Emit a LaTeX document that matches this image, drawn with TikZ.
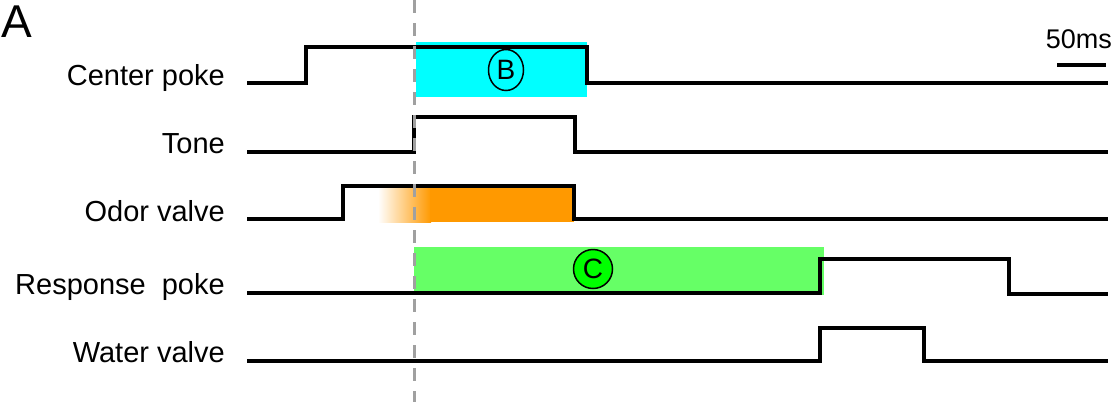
\documentclass[tikz,border=0pt]{standalone}
\usepackage{fontspec}
\setmainfont{Liberation Sans}
\usetikzlibrary{shapes.geometric}
\definecolor{cyanfill}{HTML}{00FFFF}
\definecolor{orangefill}{HTML}{FF9900}
\definecolor{greenfill}{HTML}{66FF66}
\definecolor{cfill}{HTML}{00FF00}
\definecolor{dashgray}{HTML}{A0A0A0}
\begin{document}
\begin{tikzpicture}[x=1pt,y=-1pt,
  sig/.style={line width=3.2pt, line join=miter},
  lbl/.style={font=\fontsize{29}{31}\selectfont, anchor=base east, inner sep=0pt},
  marker/.style={draw=black, line width=1.5pt, inner sep=0pt}]
\useasboundingbox (0,0) rectangle (1113,402);
% highlighted windows
\fill[cyanfill] (416,42) rectangle (587,97);
\shade[left color=white, right color=orangefill] (378,186) rectangle (431,222);
\fill[orangefill] (430,186) rectangle (574,222);
\fill[greenfill] (414,247) rectangle (824,295);
% labels
\node[font=\fontsize{46}{48}\selectfont, anchor=base west, inner sep=0pt] (A) at (1,37) {A};
\node[lbl] (lcp) at (225,85) {Center poke};
\node[lbl] (lt) at (225,153) {Tone};
\node[lbl] (lo) at (225,221) {Odor valve};
\node[lbl] (lr) at (225,294) {Response\ \ poke};
\node[lbl] (lw) at (225,362) {Water valve};
\node[lbl, font=\fontsize{27}{29}\selectfont] (sb) at (1112,48) {50ms};
% markers
\node[marker, ellipse, minimum width=35pt, minimum height=41pt] (B) at (506,70) {};
\node[font=\fontsize{28}{30}\selectfont, inner sep=0pt] (Bt) at (506,70) {B};
\node[marker, circle, fill=cfill, minimum size=39pt] (C) at (593,269) {};
\node[font=\fontsize{28}{30}\selectfont, inner sep=0pt] (Ct) at (593,269) {C};
% signals
\draw[sig] (247,83) -- (306,83) -- (306,47) -- (587,47) -- (587,83) -- (1108,83);
\draw[sig] (247,152) -- (414,152) -- (414,117) -- (575,117) -- (575,152) -- (1108,152);
\draw[sig] (247,219) -- (343,219) -- (343,186) -- (574,186) -- (574,219) -- (1108,219);
\draw[sig] (247,293) -- (820,293) -- (820,259) -- (1009,259) -- (1009,294) -- (1108,294);
\draw[sig] (247,361) -- (820,361) -- (820,328) -- (924,328) -- (924,361) -- (1108,361);
% scale bar
\draw[line width=4.2pt] (1057,65) -- (1106,65);
% onset marker
\draw[dashgray, line width=3pt, dash pattern=on 13pt off 10pt] (414,0) -- (414,402);
\end{tikzpicture}
\end{document}
